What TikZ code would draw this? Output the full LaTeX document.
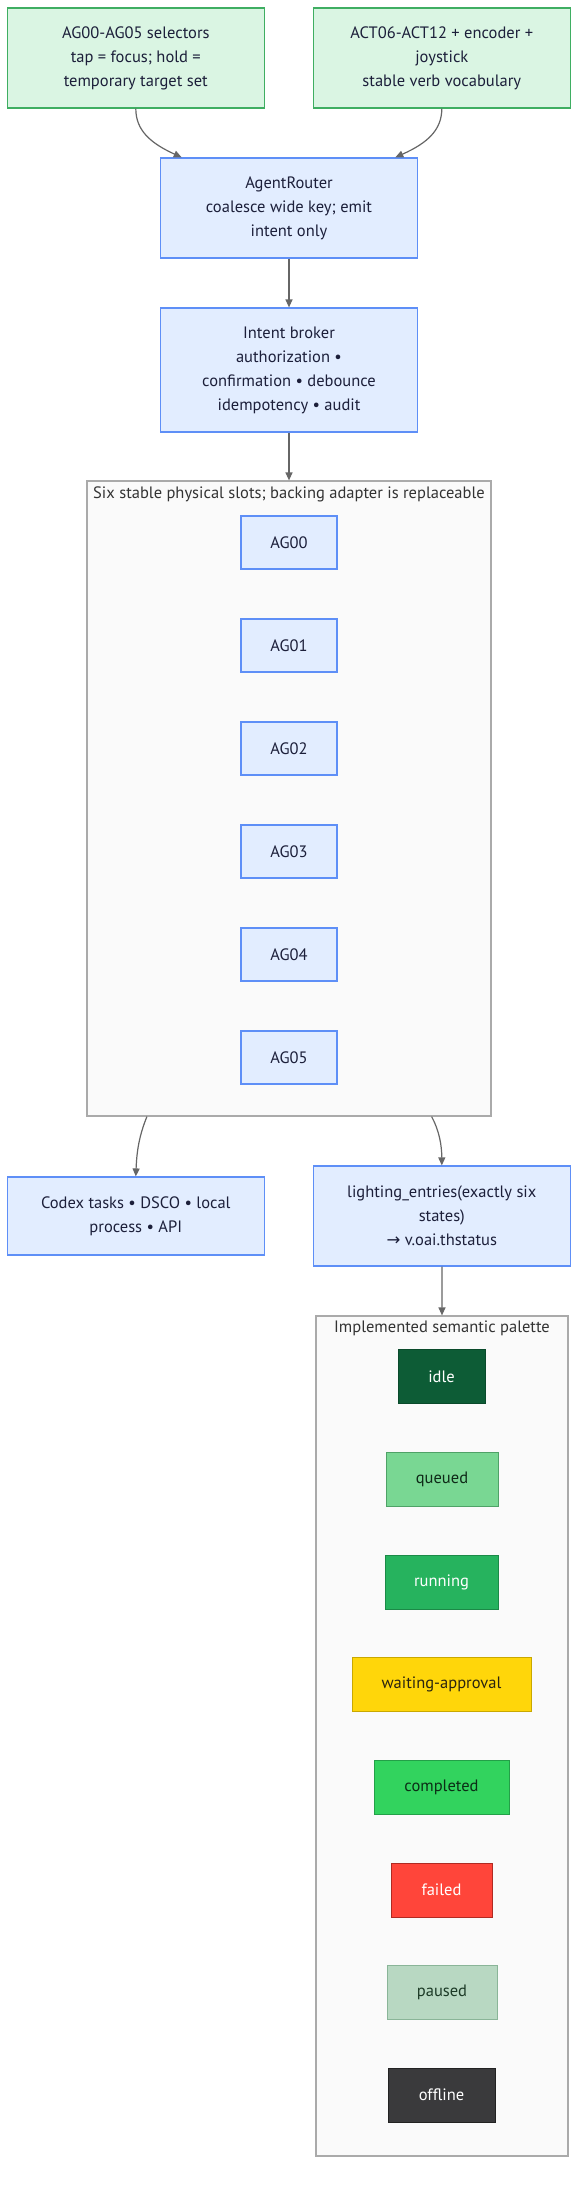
\documentclass[tikz,border=0pt]{standalone}
\usepackage{fontspec}
\setmainfont{PT Sans}
\newfontfamily\symfont{DejaVu Sans}
\usetikzlibrary{arrows.meta}
\definecolor{gfill}{HTML}{DAF5E3}
\definecolor{gline}{HTML}{3FAE62}
\definecolor{bfill}{HTML}{E2EDFF}
\definecolor{bline}{HTML}{5E8FF7}
\definecolor{cfill}{HTML}{FAFAFA}
\definecolor{cline}{HTML}{AAAAAA}
\definecolor{txt}{HTML}{1C1F3A}
\definecolor{edge}{HTML}{666666}
\definecolor{idleF}{HTML}{0D5C36}\definecolor{idleD}{HTML}{0A4A2B}
\definecolor{queF}{HTML}{79D793}\definecolor{queD}{HTML}{4FA267}\definecolor{queT}{HTML}{0F2A18}
\definecolor{runF}{HTML}{26B35E}\definecolor{runD}{HTML}{1B8A47}
\definecolor{waiF}{HTML}{FFD60A}\definecolor{waiD}{HTML}{C9A800}\definecolor{waiT}{HTML}{2A2410}
\definecolor{comF}{HTML}{32D35E}\definecolor{comD}{HTML}{23A048}\definecolor{comT}{HTML}{0B2E16}
\definecolor{faiF}{HTML}{FF453A}\definecolor{faiD}{HTML}{B02A22}
\definecolor{pauF}{HTML}{B8D8C2}\definecolor{pauD}{HTML}{8AB598}\definecolor{pauT}{HTML}{1C3A26}
\definecolor{offF}{HTML}{3A3A3C}\definecolor{offD}{HTML}{222222}
\tikzset{
  base/.style={draw, line width=1.2pt, align=center, text=txt, font=\fontsize{16.5}{24}\selectfont, inner sep=0pt},
  gbox/.style={base, fill=gfill, draw=gline, minimum width=257, minimum height=100},
  bbox/.style={base, fill=bfill, draw=bline},
  slot/.style={bbox, minimum width=96, minimum height=53},
  clus/.style={draw=cline, fill=cfill, line width=1.2pt},
  ctitle/.style={text=black!80, font=\fontsize{16.5}{24}\selectfont, inner sep=0pt},
  pal/.style={base, line width=1pt, minimum height=54},
  conn/.style={draw=edge, line width=1.2pt, -{Triangle[length=8pt,width=7pt]}}
}
\begin{document}
\begin{tikzpicture}[x=1pt,y=-1pt]
\useasboundingbox (0,0) rectangle (586,2194);
\fill[white] (0,0) rectangle (586,2194);
% clusters
\node[clus, minimum width=404, minimum height=635, inner sep=0pt] (slots) at (289,798.5) {};
\node[ctitle] (slotsT) at (289,494) {Six stable physical slots; backing adapter is replaceable};
\node[clus, minimum width=252, minimum height=840, inner sep=0pt] (palette) at (442,1736) {};
\node[ctitle] (palT) at (442,1328) {Implemented semantic palette};
% top nodes
\node[gbox] (sel) at (135.8,58) {AG00-AG05 selectors\\tap = focus; hold =\\temporary target set};
\node[gbox] (act) at (441.8,58) {ACT06-ACT12 + encoder +\\joystick\\stable verb vocabulary};
\node[bbox, minimum width=257, minimum height=100] (router) at (289,208) {AgentRouter\\coalesce wide key; emit\\intent only};
\node[bbox, minimum width=257, minimum height=124] (broker) at (289,370) {Intent broker\\authorization •\\confirmation • debounce\\idempotency • audit};
% slots
\node[slot] (ag0) at (289,542.5) {AG00};
\node[slot] (ag1) at (289,645.5) {AG01};
\node[slot] (ag2) at (289,748.5) {AG02};
\node[slot] (ag3) at (289,851.5) {AG03};
\node[slot] (ag4) at (289,954.5) {AG04};
\node[slot] (ag5) at (289,1057.5) {AG05};
% lower nodes
\node[bbox, minimum width=257, minimum height=78] (codex) at (135.8,1216) {Codex tasks • DSCO • local\\process • API};
\node[bbox, minimum width=257, minimum height=100] (light) at (441.8,1216) {lighting\_entries(exactly six\\states)\\{\symfont →} v.oai.thstatus};
% palette
\node[pal, fill=idleF, draw=idleD, minimum width=87, text=white] (idle) at (441.5,1376.5) {idle};
\node[pal, fill=queF, draw=queD, minimum width=112, text=queT] (queued) at (442,1479) {queued};
\node[pal, fill=runF, draw=runD, minimum width=113, text=white] (running) at (441.5,1582) {running};
\node[pal, fill=waiF, draw=waiD, minimum width=179, text=waiT] (waiting) at (441.5,1684) {waiting-approval};
\node[pal, fill=comF, draw=comD, minimum width=135, text=comT] (completed) at (441.5,1787) {completed};
\node[pal, fill=faiF, draw=faiD, minimum width=101, text=white] (failed) at (441.5,1890) {failed};
\node[pal, fill=pauF, draw=pauD, minimum width=110, text=pauT] (paused) at (442,1992.5) {paused};
\node[pal, fill=offF, draw=offD, minimum width=107, text=white] (offline) at (441.5,2095) {offline};
% connectors
\draw[conn] (sel.south) .. controls (135.8,130) and (150,143) .. ([xshift=-107.3pt]router.north);
\draw[conn] (act.south) .. controls (441.8,130) and (427.5,143) .. ([xshift=106.3pt]router.north);
\draw[conn] (router) -- (broker);
\draw[conn] (broker) -- (slots.north);
\draw[conn] ([xshift=-142.1pt]slots.south) .. controls (139.5,1135) and (136.8,1150) .. (codex.north);
\draw[conn] ([xshift=142.6pt]slots.south) .. controls (439,1130) and (441.8,1145) .. (light.north);
\draw[conn] (light) -- (palette.north);
\end{tikzpicture}
\end{document}
